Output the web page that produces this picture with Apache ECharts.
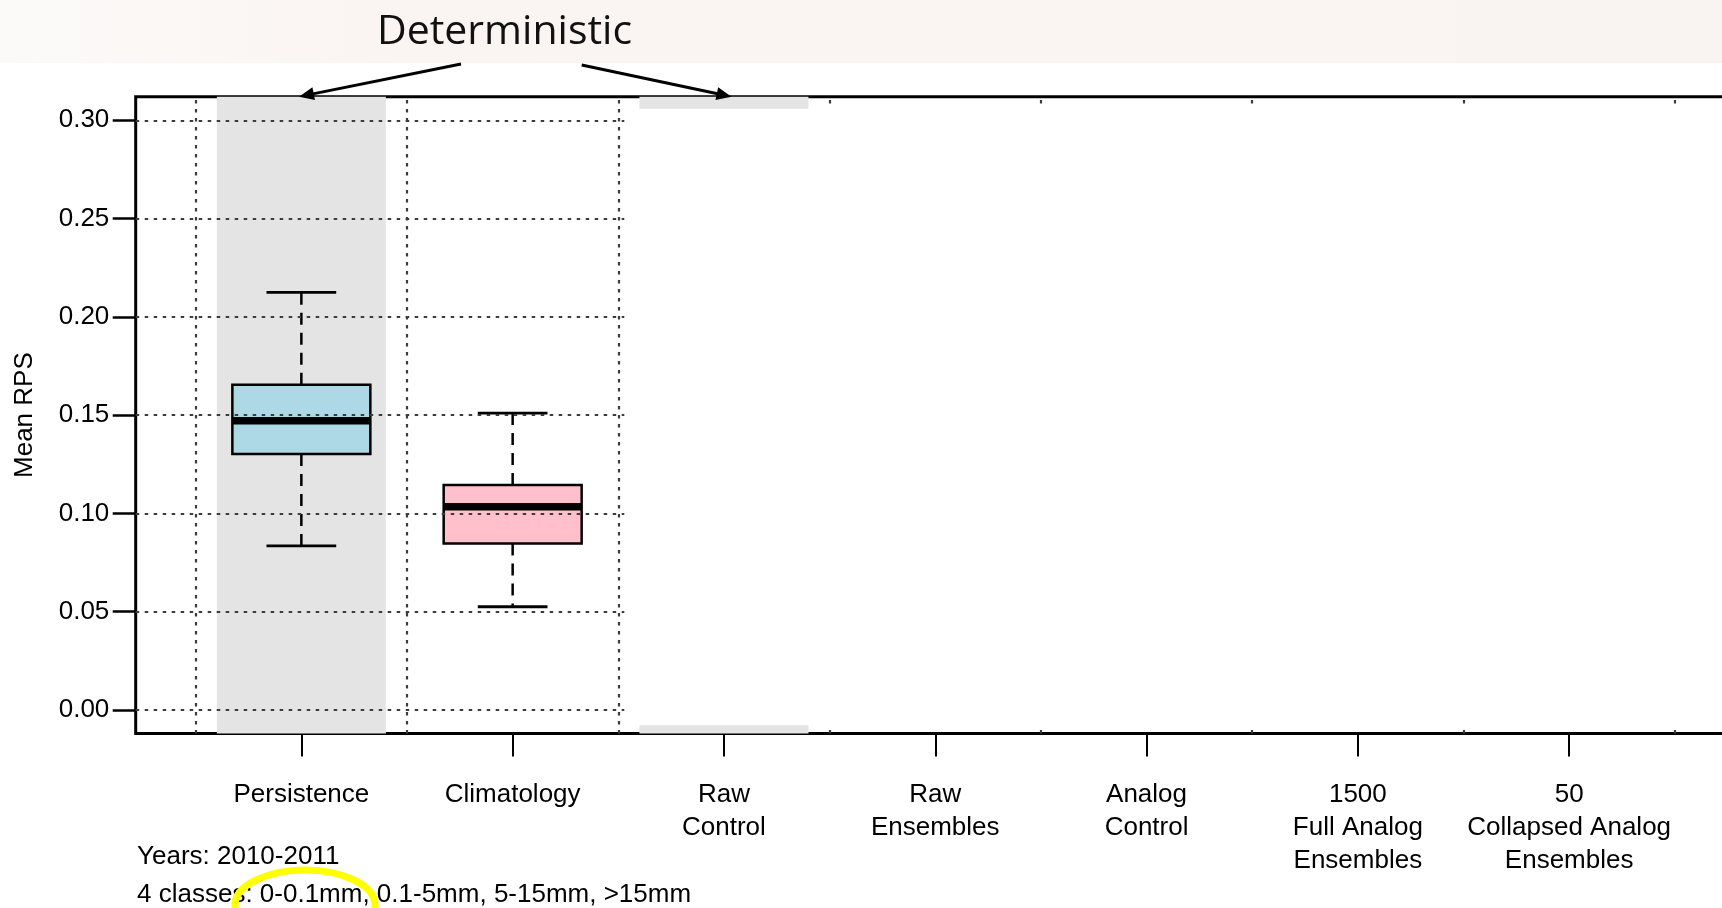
<!DOCTYPE html>
<html>
<head>
<meta charset="utf-8">
<script src="https://cdn.jsdelivr.net/npm/echarts@6/dist/echarts.min.js"></script>
<style>
  html, body { margin: 0; padding: 0; background: #ffffff; }
  #chart { width: 1722px; height: 908px; }
</style>
</head>
<body>
<div id="chart"></div>
<script>
// Methods along the x axis (positions 1..7)
const categories = [
  'Persistence', 'Climatology', 'Raw\nControl', 'Raw\nEnsembles',
  'Analog\nControl', '1500\nFull Analog\nEnsembles', '50\nCollapsed Analog\nEnsembles'
];
const categoryPos = [1, 2, 3, 4, 5, 6, 7];

// Mean RPS distributions of the methods presented so far
const boxPos       = [1, 2];
const whiskerLow   = [0.0835, 0.0525];
const quartile1    = [0.1302, 0.0847];
const medians      = [0.1471, 0.1034];
const quartile3    = [0.1654, 0.1144];
const whiskerHigh  = [0.2124, 0.1510];

// Axis ticks and reference grid
const yTicks = [0.00, 0.05, 0.10, 0.15, 0.20, 0.25, 0.30];
const xGridLines = [0.5, 1.5, 2.5, 3.5, 4.5, 5.5, 6.5, 7.5];
const xRange = [0.216, 7.784];
const yRange = [-0.012, 0.312];

// Deterministic methods get a grey background column
const deterministicPos = [1, 3];
// Methods right of this position are still covered
const revealedUpTo = 2.5;

const boxFill = ['#ADD8E6', '#FFC0CB'];
const FONT = 'Liberation Sans, Arial, Helvetica, sans-serif';

const boxData = boxPos.map((p, i) => [p, whiskerLow[i], quartile1[i], medians[i], quartile3[i], whiskerHigh[i]]);

const chart = echarts.init(document.getElementById('chart'), null, { renderer: 'canvas' });

function renderBox(params, api) {
  const x = api.value(0);
  const lo = api.coord([x, api.value(1)]);
  const q1 = api.coord([x, api.value(2)]);
  const md = api.coord([x, api.value(3)]);
  const q3 = api.coord([x, api.value(4)]);
  const hi = api.coord([x, api.value(5)]);
  const cx = lo[0];
  const half = api.size([0.653, 0])[0] / 2;
  const cap = api.size([0.33, 0])[0] / 2;
  const dashed = { stroke: '#000', lineWidth: 2.5, lineDash: [12, 8] };
  const solid = { stroke: '#000', lineWidth: 2.8 };
  return {
    type: 'group',
    children: [
      { type: 'line', shape: { x1: cx, y1: q3[1], x2: cx, y2: hi[1] }, style: dashed },
      { type: 'line', shape: { x1: cx, y1: q1[1], x2: cx, y2: lo[1] }, style: dashed },
      { type: 'line', shape: { x1: cx - cap, y1: hi[1], x2: cx + cap, y2: hi[1] }, style: solid },
      { type: 'line', shape: { x1: cx - cap, y1: lo[1], x2: cx + cap, y2: lo[1] }, style: solid },
      { type: 'rect', shape: { x: cx - half, y: q3[1], width: half * 2, height: q1[1] - q3[1] },
        style: { fill: boxFill[params.dataIndex], stroke: '#000', lineWidth: 2.5 } },
      { type: 'line', shape: { x1: cx - half, y1: md[1], x2: cx + half, y2: md[1] },
        style: { stroke: '#000', lineWidth: 7.5 } }
    ]
  };
}

const gridLineStyle = { color: '#3c3c3c', width: 2.2, type: [3.5, 5.5] };

chart.setOption({
  animation: false,
  backgroundColor: '#ffffff',
  grid: {
    left: 135.7, top: 96.7, width: 1599.1, height: 636.8,
    show: true, borderColor: '#000', borderWidth: 3, backgroundColor: 'transparent',
    containLabel: false, outerBoundsMode: 'none'
  },
  xAxis: {
    type: 'value', min: xRange[0], max: xRange[1],
    axisLine: { show: false, onZero: false },
    splitLine: { show: false },
    axisTick: { show: true, customValues: categoryPos, length: 23, inside: false,
      lineStyle: { color: '#000', width: 2 } },
    axisLabel: {
      customValues: categoryPos, margin: 45, color: '#000', fontFamily: FONT, fontSize: 26,
      lineHeight: 33, verticalAlign: 'top',
      formatter: v => categories[Math.round(v) - 1] || ''
    }
  },
  yAxis: {
    type: 'value', min: yRange[0], max: yRange[1],
    name: 'Mean RPS', nameLocation: 'middle', nameGap: 98,
    nameTextStyle: { color: '#000', fontFamily: FONT, fontSize: 26 },
    axisLine: { show: false, onZero: false },
    splitLine: { show: false },
    axisTick: { show: true, customValues: yTicks, length: 23, inside: false,
      lineStyle: { color: '#000', width: 2.5 } },
    axisLabel: {
      customValues: yTicks, margin: 26.4, color: '#000', fontFamily: FONT, fontSize: 26,
      formatter: v => v.toFixed(2)
    }
  },
  series: [
    {
      // grey columns behind the deterministic methods
      type: 'custom', z: 1, silent: true, data: [], renderItem: () => null,
      markArea: {
        silent: true,
        itemStyle: { color: '#e4e4e4' },
        data: deterministicPos.map(p => [{ xAxis: p - 0.4 }, { xAxis: p + 0.4 }])
      }
    },
    {
      // dotted reference grid
      type: 'custom', z: 2, silent: true, data: [], renderItem: () => null,
      markLine: {
        silent: true, symbol: 'none', label: { show: false },
        lineStyle: gridLineStyle,
        data: yTicks.map(v => ({ yAxis: v })).concat(xGridLines.map(v => ({ xAxis: v })))
      }
    },
    {
      type: 'custom', z: 3, silent: true,
      encode: { x: 0, y: [1, 2, 3, 4, 5] },
      data: boxData,
      renderItem: renderBox
    }
  ]
});

// Overlay: heading, arrows, footnotes and the cover over the remaining methods
const g = chart.getModel().getComponent('grid').coordinateSystem.getRect();
const coverLeft = chart.convertToPixel({ gridIndex: 0 }, [revealedUpTo, 0])[0] + 6;

function arrow(x1, y1, x2, y2) {
  const dx = x2 - x1, dy = y2 - y1, L = Math.hypot(dx, dy);
  const ux = dx / L, uy = dy / L, hl = 15, hw = 6.5;
  const bx = x2 - ux * hl, by = y2 - uy * hl;
  return [
    { type: 'line', z: 70, shape: { x1: x1, y1: y1, x2: bx + ux * 2, y2: by + uy * 2 },
      style: { stroke: '#000', lineWidth: 3 } },
    { type: 'polygon', z: 70,
      shape: { points: [[x2, y2], [bx - uy * hw, by + ux * hw], [bx + uy * hw, by - ux * hw]] },
      style: { fill: '#000' } }
  ];
}

chart.setOption({
  graphic: [
    { type: 'rect', z: 50, shape: { x: 0, y: 0, width: 1722, height: 63 },
      style: { fill: new echarts.graphic.LinearGradient(0, 0, 1, 0, [
        { offset: 0, color: '#fcfaf9' }, { offset: 0.22, color: '#faf5f2' }, { offset: 1, color: '#f9f4f1' }
      ]) } },
    { type: 'text', z: 60, x: 504.5, y: 32.5,
      style: { text: 'Deterministic', fill: '#111', font: '41px "Open Sans", sans-serif',
        textAlign: 'center', textVerticalAlign: 'middle' } },
    // cover hiding the methods not yet presented
    { type: 'rect', z: 50,
      shape: { x: coverLeft, y: g.y + 12, width: 1722 - coverLeft + 20, height: g.height - 20.3 },
      style: { fill: '#ffffff' } },
    ...arrow(461, 64, 299, 96.7),
    ...arrow(581.7, 65, 731.5, 96.7),
    { type: 'text', z: 60, x: 137, y: 857,
      style: { text: 'Years: 2010-2011', fill: '#000', font: '26px ' + FONT, textVerticalAlign: 'middle' } },
    { type: 'text', z: 60, x: 137, y: 895,
      style: { text: '4 classes: 0-0.1mm, 0.1-5mm, 5-15mm, >15mm', fill: '#000', font: '26px ' + FONT,
        textVerticalAlign: 'middle' } },
    { type: 'ellipse', z: 65, shape: { cx: 305, cy: 905, rx: 70, ry: 35 },
      style: { fill: 'none', stroke: '#ffff00', lineWidth: 7 } }
  ]
});
</script>
</body>
</html>
